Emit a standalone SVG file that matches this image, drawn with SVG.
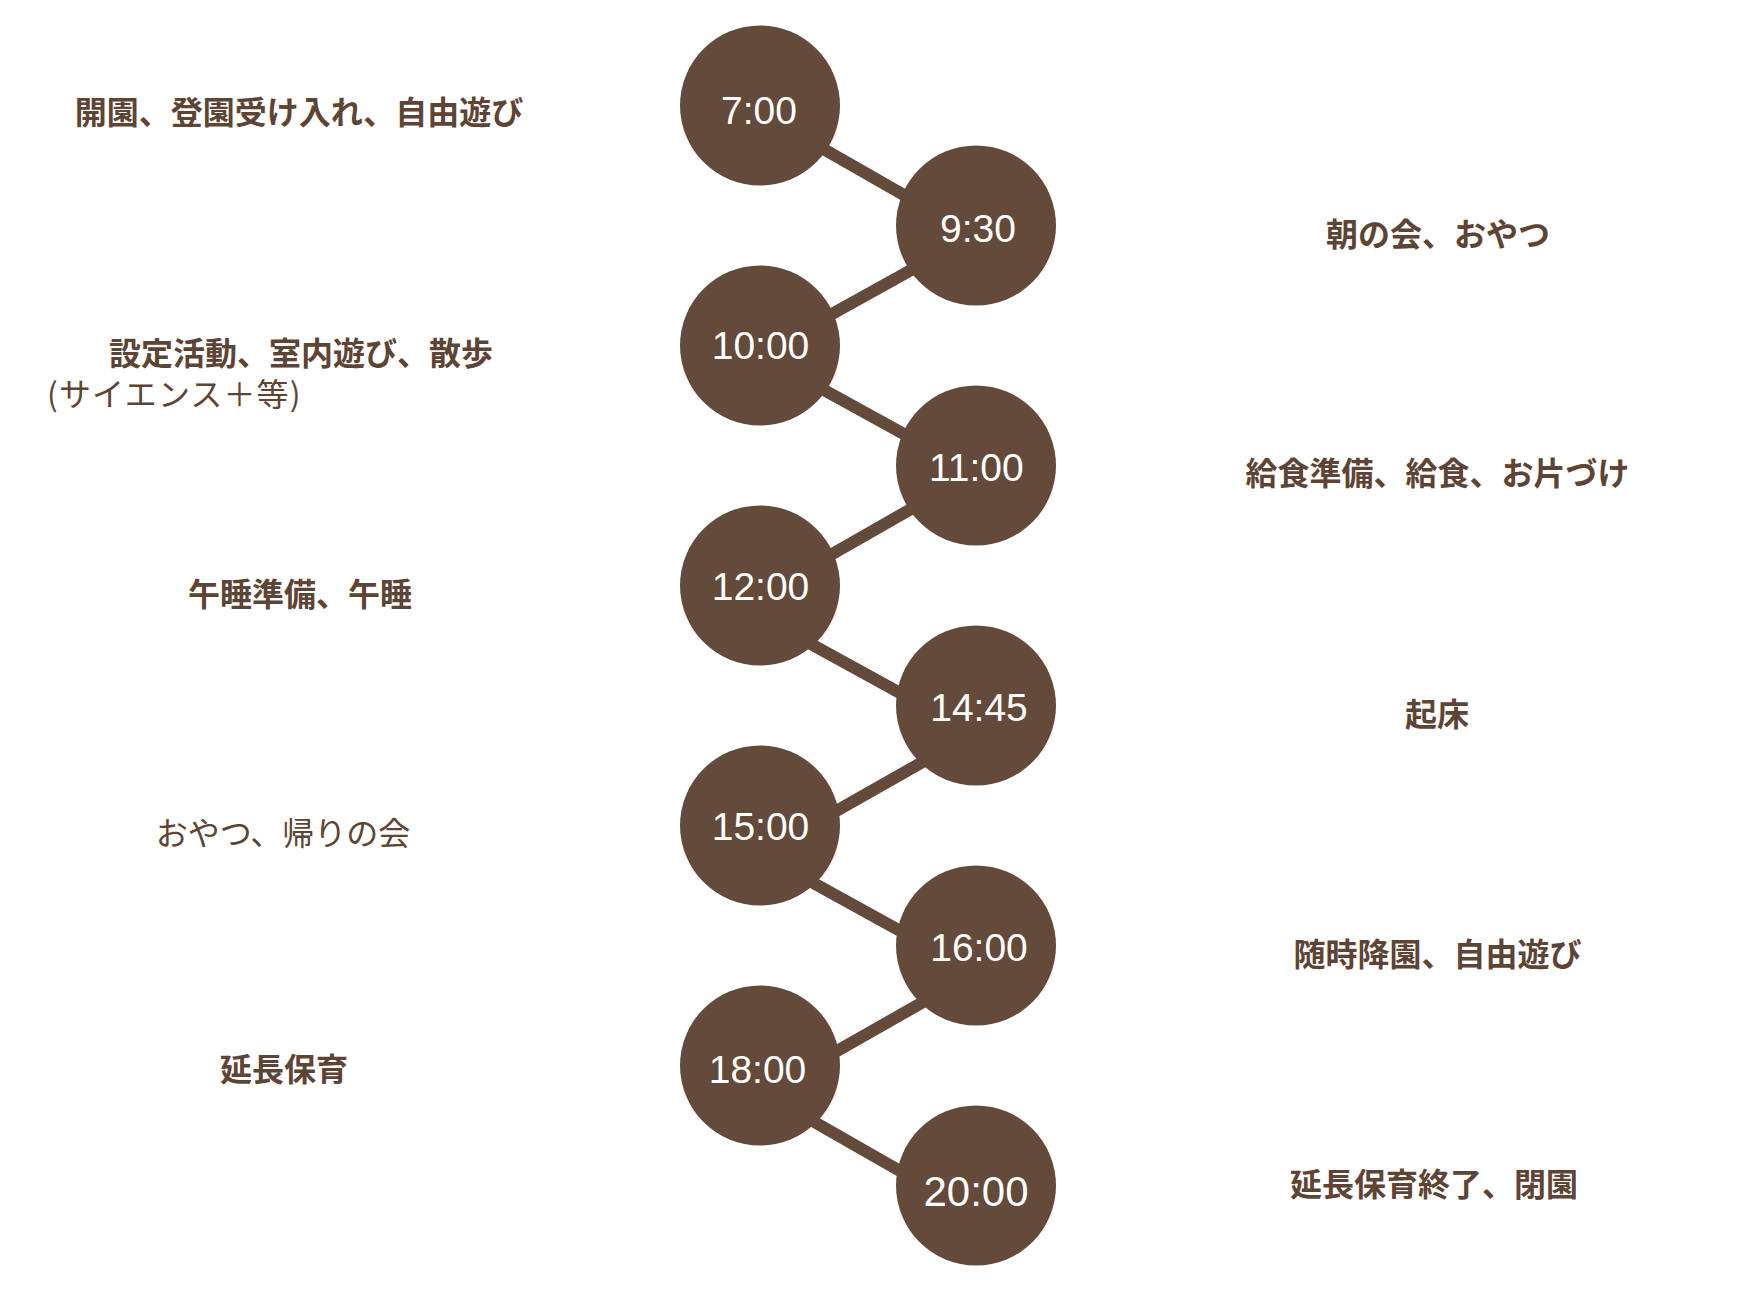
<svg xmlns="http://www.w3.org/2000/svg" width="1740" height="1298" viewBox="0 0 1740 1298">
<style>
.bg{fill:#ffffff}
.dot{fill:#644a3a}
.conn{stroke:#644a3a;stroke-width:12;fill:none}
.time{font-family:"Liberation Sans",Arial,sans-serif;font-size:39px;fill:#ffffff;text-anchor:middle}
.lbl{font-family:"Noto Sans CJK JP",sans-serif;font-size:32px;fill:#5e4434;font-weight:bold;text-anchor:middle}
.lt{font-weight:normal}
</style>
<rect class="bg" x="0" y="0" width="1740" height="1298"/>
<g id="connectors">
<line class="conn" x1="760" y1="112.7" x2="976" y2="236.2"/>
<line class="conn" x1="976" y1="234" x2="760" y2="354"/>
<line class="conn" x1="760" y1="354.7" x2="976" y2="473.7"/>
<line class="conn" x1="976" y1="471.9" x2="760" y2="595.2"/>
<line class="conn" x1="760" y1="616" x2="976" y2="734.8"/>
<line class="conn" x1="976" y1="731.7" x2="760" y2="854.2"/>
<line class="conn" x1="760" y1="853.5" x2="976" y2="972.8"/>
<line class="conn" x1="976" y1="972" x2="760" y2="1094.7"/>
<line class="conn" x1="760" y1="1091" x2="976" y2="1214.4"/>
</g>
<g id="n0700"><circle class="dot" cx="760" cy="105.5" r="80"/><text class="time" x="759" y="123.5">7:00</text></g>
<g id="n0930"><circle class="dot" cx="976" cy="225.5" r="80"/><text class="time" x="978" y="241.5">9:30</text></g>
<g id="n1000"><circle class="dot" cx="760" cy="345.5" r="80"/><text class="time" x="760.5" y="359">10:00</text></g>
<g id="n1100"><circle class="dot" cx="976" cy="465.5" r="80"/><text class="time" x="976.3" y="480.5">11:00</text></g>
<g id="n1200"><circle class="dot" cx="760" cy="585.5" r="80"/><text class="time" x="760.5" y="599.5">12:00</text></g>
<g id="n1445"><circle class="dot" cx="976" cy="705.5" r="80"/><text class="time" x="979" y="721">14:45</text></g>
<g id="n1500"><circle class="dot" cx="760" cy="825.5" r="80"/><text class="time" x="760.5" y="840">15:00</text></g>
<g id="n1600"><circle class="dot" cx="976" cy="945.5" r="80"/><text class="time" x="979" y="960.5">16:00</text></g>
<g id="n1800"><circle class="dot" cx="760" cy="1065.5" r="80"/><text class="time" x="757.5" y="1083">18:00</text></g>
<g id="n2000"><circle class="dot" cx="976" cy="1185.5" r="80"/><text class="time" x="976" y="1206" style="font-size:42px">20:00</text></g>
<g id="labels">
<text class="lbl" x="299" y="124">開園、登園受け入れ、自由遊び</text>
<text class="lbl" x="1438" y="246">朝の会、おやつ</text>
<text class="lbl" x="301" y="364.5">設定活動、室内遊び、散歩</text>
<text class="lbl lt" x="47" y="406" style="text-anchor:start;letter-spacing:1.1px">(サイエンス＋等)</text>
<text class="lbl" x="1437.5" y="484.5">給食準備、給食、お片づけ</text>
<text class="lbl" x="300" y="606">午睡準備、午睡</text>
<text class="lbl" x="1437" y="726">起床</text>
<text class="lbl lt" x="283" y="844.5">おやつ、帰りの会</text>
<text class="lbl" x="1437.5" y="966">随時降園、自由遊び</text>
<text class="lbl" x="284" y="1081">延長保育</text>
<text class="lbl" x="1434" y="1196">延長保育終了、閉園</text>
</g>
</svg>
